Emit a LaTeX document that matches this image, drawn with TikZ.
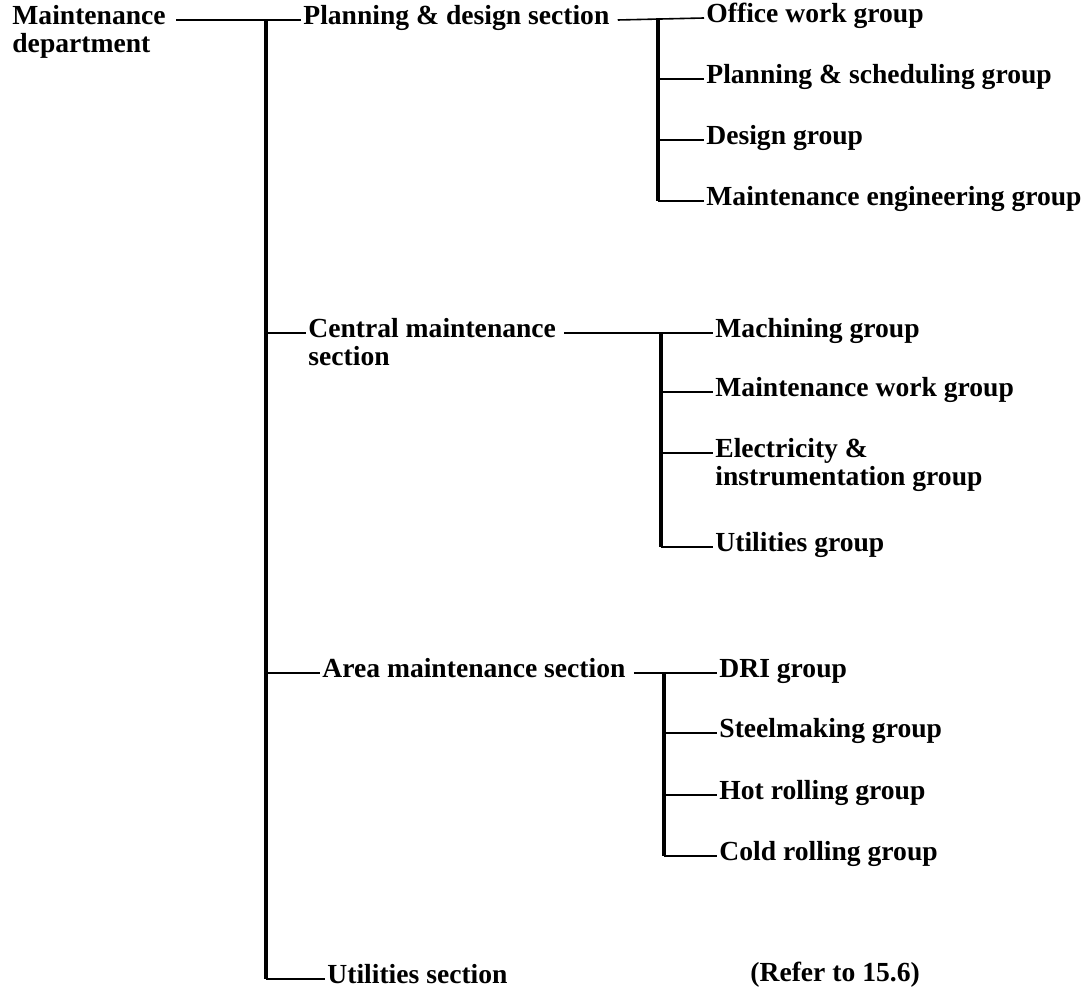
\documentclass[tikz,border=0pt]{standalone}
\usepackage{fontspec}
\setmainfont{Liberation Serif}

% two lines, the node's base on the first one
\newcommand{\twolines}[2]{\begin{tabular}[t]{@{}l@{}}#1\\#2\end{tabular}}

\tikzset{
  unit/.style={anchor=mid west, inner sep=1pt,
    font=\bfseries\fontsize{13.8}{14}\selectfont},
  link/.style={line width=0.8pt},
  spine/.style={line width=2pt},
}

\begin{document}
\begin{tikzpicture}[x=0.5pt, y=-0.5pt]
        \useasboundingbox (0,0) rectangle (1088,999);

        % department and its sections
        \node[unit] (dept) at (10,20) {\twolines{Maintenance}{department}};
        \node[unit] (plan) at (301,20) {Planning \& design section};
        \node[unit] (cent) at (306,333) {\twolines{Central maintenance}{section}};
        \node[unit] (area) at (320,673) {Area maintenance section};
        \node[unit] (util) at (325,979) {Utilities section};
        \node[unit] (refer) at (748,977) {(Refer to 15.6)};

        % groups
        \node[unit] (office) at (704,18) {Office work group};
        \node[unit] (sched) at (704,79) {Planning \& scheduling group};
        \node[unit] (design) at (704,140) {Design group};
        \node[unit] (mengr) at (704,201) {Maintenance engineering group};

        \node[unit] (mach) at (713,333) {Machining group};
        \node[unit] (mwork) at (713,392) {Maintenance work group};
        \node[unit] (elec) at (713,453) {\twolines{Electricity \&}{instrumentation group}};
        \node[unit] (ugroup) at (713,547) {Utilities group};

        \node[unit] (dri) at (717,673) {DRI group};
        \node[unit] (steel) at (717,733) {Steelmaking group};
        \node[unit] (hot) at (717,795) {Hot rolling group};
        \node[unit] (cold) at (717,856) {Cold rolling group};

        \coordinate (top) at (266,20);
        \coordinate (g1) at (658,20);
        \coordinate (g2) at (661,333);
        \coordinate (g3) at (664,673);

        % main spine
        \draw[link] ([xshift=4pt]dept.mid east) -- (plan.mid west);
        \draw[spine] (top) -- (top |- util.mid west);
        \draw[link] (top |- cent.mid west) -- (cent.mid west)
            (top |- area.mid west) -- (area.mid west)
            (top |- util.mid west) -- (util.mid west);

        % planning & design
        \draw[link] ([xshift=3pt]plan.mid east) -- (office.mid west);
        \draw[spine] (g1 |- office.mid west) -- (g1 |- mengr.mid west);
        \draw[link] (g1 |- sched.mid west) -- (sched.mid west)
            (g1 |- design.mid west) -- (design.mid west)
            (g1 |- mengr.mid west) -- (mengr.mid west);

        % central maintenance
        \draw[link] ([xshift=3pt]cent.mid east) -- (mach.mid west);
        \draw[spine] (g2 |- mach.mid west) -- (g2 |- ugroup.mid west);
        \draw[link] (g2 |- mwork.mid west) -- (mwork.mid west)
            (g2 |- elec.mid west) -- (elec.mid west)
            (g2 |- ugroup.mid west) -- (ugroup.mid west);

        % area maintenance
        \draw[link] ([xshift=3pt]area.mid east) -- (dri.mid west);
        \draw[spine] (g3 |- dri.mid west) -- (g3 |- cold.mid west);
        \draw[link] (g3 |- steel.mid west) -- (steel.mid west)
            (g3 |- hot.mid west) -- (hot.mid west)
            (g3 |- cold.mid west) -- (cold.mid west);
\end{tikzpicture}
\end{document}
